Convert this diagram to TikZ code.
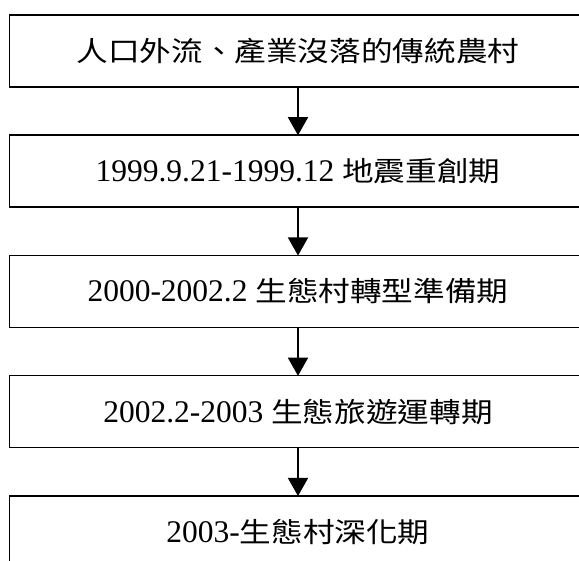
\documentclass[tikz,border=0pt]{standalone}
\usepackage{fontspec}
\setmainfont{Liberation Serif}
\newfontfamily\cjk[FakeStretch=1.15]{Noto Sans CJK TC}
\usetikzlibrary{arrows.meta}
\tikzset{
  stagebox/.style={draw=black, line width=1.5pt, fill=none, outer sep=0pt,
    minimum width=577pt, minimum height=72pt, inner sep=0pt,
    font=\fontsize{31.5}{36}\selectfont},
  flowarrow/.style={line width=1.5pt, -{Triangle[width=20pt,length=18pt]}}
}
\newcommand{\cj}[1]{{\cjk\fontsize{27.5}{34}\selectfont #1}}
\begin{document}
\begin{tikzpicture}[x=1pt,y=-1pt]
\useasboundingbox (0,0) rectangle (579,561);
\fill[white] (0,0) rectangle (579,561);
\clip (0,0) rectangle (579,561);
\node[stagebox] (b1) at (298,51) {\cj{人口外流、產業沒落的傳統農村}};
\node[stagebox] (b2) at (298,171.25) {1999.9.21-1999.12 \cj{地震重創期}};
\node[stagebox] (b3) at (298,291.5) {2000-2002.2 \cj{生態村轉型準備期}};
\node[stagebox] (b4) at (298,411.75) {2002.2-2003 \cj{生態旅遊運轉期}};
\node[stagebox] (b5) at (298,532) {2003-\cj{生態村深化期}};
\draw[flowarrow] (b1.south) -- (b2.north);
\draw[flowarrow] (b2.south) -- (b3.north);
\draw[flowarrow] (b3.south) -- (b4.north);
\draw[flowarrow] (b4.south) -- (b5.north);
\end{tikzpicture}
\end{document}
